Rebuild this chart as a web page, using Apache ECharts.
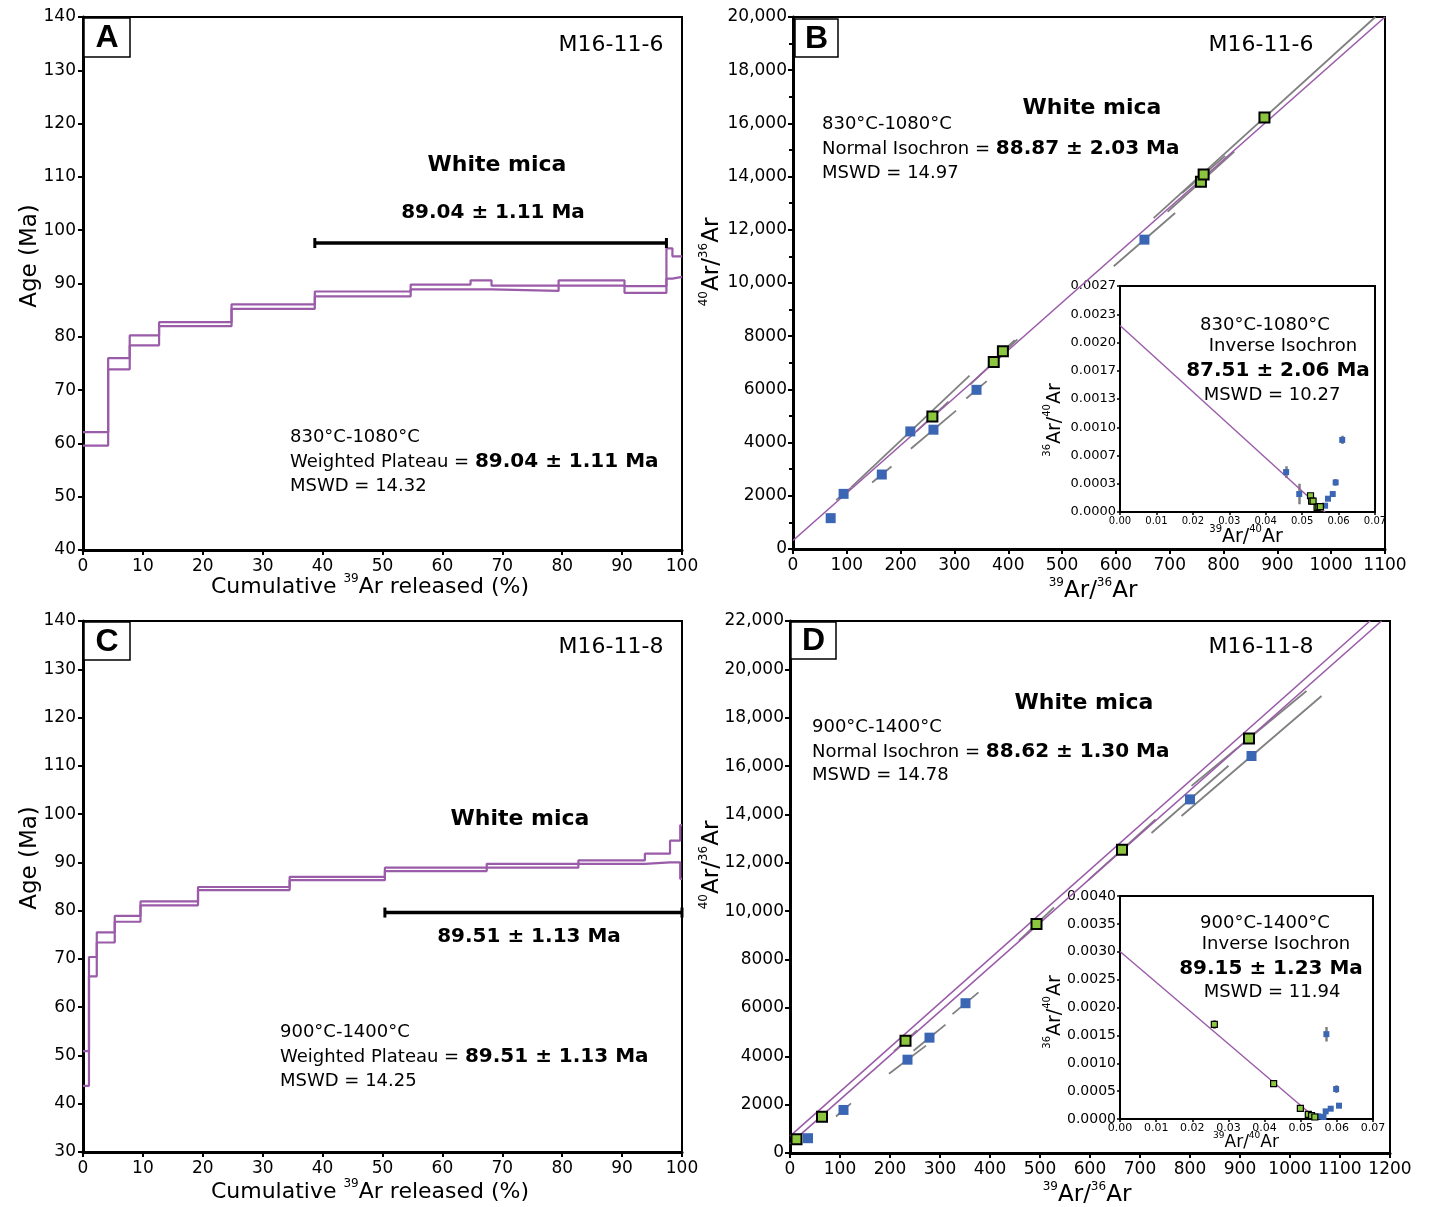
<!DOCTYPE html>
<html><head><meta charset="utf-8">
<script src="https://cdn.jsdelivr.net/npm/echarts@6/dist/echarts.min.js"></script>
<style>html,body{margin:0;padding:0;background:#fff}#c{width:1430px;height:1207px}</style>
</head><body><div id="c"></div>
<script>
// ---------------- DATA ----------------
// Panel A: age spectrum M16-11-6
const stepXA  = [0, 4.2, 7.8, 12.7, 24.8, 38.7, 54.7, 64.7, 68.2, 79.4, 90.4, 97.4, 98.4, 100];
const ageHiA  = [62.1, 76.0, 80.25, 82.75, 86.1, 88.5, 89.8, 90.6, 89.6, 90.6, 89.5, 96.6, 95.1];
const ageLoA  = [59.6, 73.9, 78.4, 82.0, 85.25, 87.6, 88.9, 88.9, 88.6, 89.6, 88.25, 90.9, 91.25];
const plateauRangeA = [38.7, 97.4];
const plateauLevelA = 97.6;

// Panel C: age spectrum M16-11-8
const stepXC  = [0, 1.0, 2.3, 5.3, 9.6, 19.2, 34.5, 50.4, 67.4, 82.7, 93.8, 98.0, 99.7, 100];
const ageHiC  = [50.9, 70.4, 75.5, 78.9, 81.9, 84.9, 87.0, 88.9, 89.7, 90.4, 91.8, 94.5, 97.7];
const ageLoC  = [43.7, 66.4, 73.4, 77.7, 81.1, 84.25, 86.3, 88.2, 88.9, 89.7, 90.0, 90.0, 86.6];
const plateauRangeC = [50.4, 100];
const plateauLevelC = 79.6;

// Panel B: normal isochron M16-11-6 (39Ar/36Ar, 40Ar/36Ar)
const blueBx  = [70, 94, 165, 218, 261, 341, 653];
const blueBy  = [1160, 2073, 2800, 4420, 4485, 5984, 11630];
const blueBex = [5, 14, 18, 110, 42, 19, 57];
const blueBey = [90, 235, 300, 2100, 717, 326, 1000];
const greenBx  = [259, 373, 390, 758, 763, 876];
const greenBy  = [4980, 7027, 7432, 13807, 14081, 16219];
const greenBex = [30, 44, 22, 62, 40, 206];
const greenBey = [560, 850, 420, 1130, 700, 3780];
const isoLineB = [[0, 320], [1100, 20000]];

// Panel D: normal isochron M16-11-8
const blueDx  = [36, 107, 235, 279, 351, 800, 923];
const blueDy  = [612, 1780, 3859, 4770, 6194, 14624, 16417];
const blueDex = [4, 15, 37, 32, 26, 77, 140];
const blueDey = [60, 270, 580, 540, 450, 1390, 2480];
const greenDx  = [13, 64, 231, 493, 664, 918];
const greenDy  = [570, 1495, 4642, 9469, 12545, 17144];
const greenDex = [3, 5, 23, 35, 67, 115];
const greenDey = [50, 80, 430, 690, 1250, 1960];
const isoLineD1 = [[0, 700], [1160, 22000]];
const isoLineD2 = [[0, 380], [1183, 22000]];

// Inset B: inverse isochron (39Ar/40Ar, 36Ar/40Ar)
const invBlueBx = [0.0456, 0.0492, 0.0563, 0.0571, 0.0584, 0.0592, 0.0610];
const invBlueBy = [0.000471, 0.000212, 0.0000745, 0.000157, 0.000212, 0.000349, 0.000851];
const invBlueBe = [0.00007, 0.00012, 0.00001, 0.00001, 0.00003, 0.00004, 0.00005];
const invGreenBx = [0.0523, 0.0526, 0.0530, 0.0541, 0.0546, 0.0550];
const invGreenBy = [0.000192, 0.000129, 0.000129, 0.000055, 0.000060, 0.000063];
const invLineB = [[0, 0.0022], [0.0563, 0]];

// Inset D
const invGreenDx = [0.0261, 0.0425, 0.0499, 0.0521, 0.0530, 0.0539];
const invGreenDy = [0.001696, 0.000633, 0.000191, 0.0000836, 0.0000597, 0.0000358];
const invGreenDe = [0.00008, 0.00005, 0.00002, 0.00001, 0.00001, 0.00001];
const invBlueDx = [0.0549, 0.0563, 0.0569, 0.0571, 0.0583, 0.0598, 0.0606];
const invBlueDy = [0.0000478, 0.0000358, 0.000137, 0.001522, 0.000185, 0.000537, 0.000239];
const invBlueDe = [0.00001, 0.00001, 0.00001, 0.00013, 0.00001, 0.00007, 0.00002];
const invLineD = [[0, 0.003003], [0.0544, 0]];

// ---------------- STYLE ----------------
const FONT = 'DejaVu Sans';
const PURPLE = '#9a5ba8';
const BLUE = '#3b66b4';
const GREEN = '#8cc63f';
const GRAY = '#808080';

function stepLine(xs, ys) {
  const pts = [];
  for (let i = 0; i < ys.length; i++) {
    pts.push([xs[i], ys[i]]);
    pts.push([xs[i + 1], ys[i]]);
  }
  return pts;
}
function zip(xs, ys) { return xs.map((x, i) => [x, ys[i]]); }
function segs(xs, ys, ex, ey) {
  return xs.map((x, i) => ({ coords: [[x - ex[i], ys[i] - ey[i]], [x + ex[i], ys[i] + ey[i]]] }));
}
function vsegs(xs, ys, e) {
  return xs.map((x, i) => ({ coords: [[x, ys[i] - e[i]], [x, ys[i] + e[i]]] }));
}
function commaFmt(v) { return v >= 10000 ? v.toLocaleString('en-US') : String(v); }
function plainFmt(v) { return String(v); }

function axis(gridIndex, min, max, interval, opts) {
  const base = {
    type: 'value', gridIndex, min, max, interval,
    axisLine: { show: true, onZero: false, lineStyle: { color: '#000', width: 3 } },
    axisTick: { show: true, inside: false, length: 5, lineStyle: { color: '#000', width: 2 } },
    axisLabel: { color: '#000', fontFamily: FONT, fontSize: 17, margin: 7, formatter: plainFmt },
    splitLine: { show: false }
  };
  return Object.assign(base, opts || {});
}
function insetAxis(gridIndex, min, max, interval, fs, digits, margin) {
  return {
    type: 'value', gridIndex, min, max, interval,
    axisLine: { show: true, onZero: false, lineStyle: { color: '#000', width: 2 } },
    axisTick: { show: true, length: 3, lineStyle: { color: '#000', width: 1.5 } },
    axisLabel: { color: '#000', fontFamily: FONT, fontSize: fs, margin: margin,
      formatter: v => v.toFixed(digits) },
    splitLine: { show: false }
  };
}

const grids = [
  { left: 83, top: 17, width: 599, height: 533 },     // A
  { left: 793, top: 17, width: 592, height: 532 },    // B
  { left: 83, top: 621, width: 599, height: 531 },    // C
  { left: 790, top: 621, width: 600, height: 532 },   // D
  { left: 1120, top: 286, width: 255, height: 226, backgroundColor: '#fff' }, // inset B
  { left: 1120, top: 896, width: 253, height: 223, backgroundColor: '#fff' }  // inset D
].map(g => Object.assign({ show: true, borderColor: '#000', borderWidth: 2, containLabel: false }, g));

const xLabel = { color: '#000', fontFamily: FONT, fontSize: 17, margin: 8, formatter: plainFmt };
const xAxes = [
  axis(0, 0, 100, 10, { axisLabel: xLabel }),
  axis(1, 0, 1100, 100, { axisLabel: xLabel }),
  axis(2, 0, 100, 10, { axisLabel: xLabel }),
  axis(3, 0, 1200, 100, { axisLabel: xLabel }),
  insetAxis(4, 0, 0.07, 0.01, 10, 2, 4),
  insetAxis(5, 0, 0.07, 0.01, 11, 2, 4)
];
const yAxes = [
  axis(0, 40, 140, 10),
  axis(1, 0, 20000, 2000, {
    axisLabel: { color: '#000', fontFamily: FONT, fontSize: 17, margin: 6, formatter: commaFmt },
    minorTick: { show: true, splitNumber: 2, length: 4, lineStyle: { color: '#000', width: 2 } }
  }),
  axis(2, 30, 140, 10),
  axis(3, 0, 22000, 2000, {
    axisLabel: { color: '#000', fontFamily: FONT, fontSize: 17, margin: 6, formatter: commaFmt }
  }),
  insetAxis(4, 0, 8 / 3000, 1 / 3000, 13, 4, 4),
  insetAxis(5, 0, 0.004, 0.0005, 14, 4, 4)
];

function lineS(ai, data, color, width, z) {
  return { type: 'line', xAxisIndex: ai, yAxisIndex: ai, data, showSymbol: false, symbol: 'none',
    lineStyle: { color, width }, z: z || 3, animation: false, silent: true };
}
function segS(ai, data, color, width) {
  return { type: 'lines', coordinateSystem: 'cartesian2d', xAxisIndex: ai, yAxisIndex: ai, data,
    lineStyle: { color, width, opacity: 1 }, z: 2, animation: false, silent: true };
}
function ptS(ai, data, color, size, border) {
  return { type: 'scatter', xAxisIndex: ai, yAxisIndex: ai, data, symbol: 'rect', symbolSize: size,
    itemStyle: { color, borderColor: border ? '#000' : color, borderWidth: border || 0, opacity: 1 },
    z: 5, animation: false, silent: true };
}
function plateauS(ai, range, level) {
  return { type: 'line', xAxisIndex: ai, yAxisIndex: ai,
    data: [[range[0], level], [range[1], level]],
    symbol: 'rect', symbolSize: [3, 10], showSymbol: true,
    itemStyle: { color: '#000' }, lineStyle: { color: '#000', width: 3.5 }, z: 4, animation: false, silent: true };
}

const series = [
  // A
  lineS(0, stepLine(stepXA, ageHiA), PURPLE, 2.2),
  lineS(0, stepLine(stepXA, ageLoA), PURPLE, 2.2),
  plateauS(0, plateauRangeA, plateauLevelA),
  // C
  lineS(2, stepLine(stepXC, ageHiC), PURPLE, 2.2),
  lineS(2, stepLine(stepXC, ageLoC), PURPLE, 2.2),
  plateauS(2, plateauRangeC, plateauLevelC),
  // B
  segS(1, segs(blueBx, blueBy, blueBex, blueBey), GRAY, 1.8),
  segS(1, segs(greenBx, greenBy, greenBex, greenBey), GRAY, 1.8),
  lineS(1, isoLineB, PURPLE, 1.6, 3),
  ptS(1, zip(blueBx, blueBy), BLUE, 10, 0),
  ptS(1, zip(greenBx, greenBy), GREEN, 10, 2),
  // D
  segS(3, segs(blueDx, blueDy, blueDex, blueDey), GRAY, 1.8),
  segS(3, segs(greenDx, greenDy, greenDex, greenDey), GRAY, 1.8),
  lineS(3, isoLineD1, PURPLE, 1.6, 3),
  lineS(3, isoLineD2, PURPLE, 1.6, 3),
  ptS(3, zip(blueDx, blueDy), BLUE, 10, 0),
  ptS(3, zip(greenDx, greenDy), GREEN, 10, 2),
  // inset B
  lineS(4, invLineB, PURPLE, 1.4, 3),
  segS(4, vsegs(invBlueBx, invBlueBy, invBlueBe), GRAY, 2.5),
  ptS(4, zip(invBlueBx, invBlueBy), BLUE, 6, 0),
  ptS(4, zip(invGreenBx, invGreenBy), GREEN, 6, 1.2),
  // inset D
  lineS(5, invLineD, PURPLE, 1.4, 3),
  segS(5, vsegs(invBlueDx, invBlueDy, invBlueDe), GRAY, 2.5),
  segS(5, vsegs(invGreenDx, invGreenDy, invGreenDe), GRAY, 2.5),
  ptS(5, zip(invBlueDx, invBlueDy), BLUE, 6, 0),
  ptS(5, zip(invGreenDx, invGreenDy), GREEN, 6, 1.2)
];

// ---------------- TEXT ----------------
function T(x, y, text, fs, opt) {
  opt = opt || {};
  return {
    type: 'text', x, y, rotation: opt.rot || 0, z: 100,
    style: {
      text, fill: '#000', fontFamily: opt.family || FONT, fontSize: fs,
      fontWeight: opt.bold ? 'bold' : 'normal',
      align: opt.align || 'left', verticalAlign: 'middle',
      rich: opt.rich || {}
    }
  };
}
const richVal = { b: { fontFamily: FONT, fontSize: 20, fontWeight: 'bold', fill: '#000' } };
function supRich(big, small) {
  return {
    n: { fontFamily: FONT, fontSize: big, lineHeight: big + 6, fill: '#000' },
    s: { fontFamily: FONT, fontSize: small, lineHeight: small, verticalAlign: 'top', fill: '#000' }
  };
}
function letterBox(x, y, w, h, letter) {
  return [
    { type: 'rect', z: 90, shape: { x, y, width: w, height: h }, style: { fill: '#fff', stroke: '#000', lineWidth: 1.5 } },
    T(x + w / 2, y + h / 2 + 1, letter, 32, { bold: true, align: 'center', family: 'Liberation Sans' })
  ];
}

const graphic = [].concat(
  letterBox(84, 18, 46, 39, 'A'),
  letterBox(795, 19, 43, 38, 'B'),
  letterBox(84, 622, 46, 38, 'C'),
  letterBox(791, 622, 45, 37, 'D'),
  [
    // Panel A
    T(611, 45, 'M16-11-6', 22, { align: 'center' }),
    T(497, 165, 'White mica', 22, { bold: true, align: 'center' }),
    T(493, 213, '89.04 ± 1.11 Ma', 20, { bold: true, align: 'center' }),
    T(290, 437, '830°C-1080°C', 18),
    T(290, 462, 'Weighted Plateau = {b|89.04 ± 1.11 Ma}', 18, { rich: richVal }),
    T(290, 486, 'MSWD = 14.32', 18),
    T(30, 256, 'Age (Ma)', 23, { align: 'center', rot: Math.PI / 2 }),
    T(370, 587, '{n|Cumulative }{s|39}{n|Ar released (%)}', 22, { align: 'center', rich: supRich(22, 12) }),
    // Panel B
    T(1261, 45, 'M16-11-6', 22, { align: 'center' }),
    T(1092, 108, 'White mica', 22, { bold: true, align: 'center' }),
    T(822, 124, '830°C-1080°C', 18),
    T(822, 149, 'Normal Isochron = {b|88.87 ± 2.03 Ma}', 18, { rich: richVal }),
    T(822, 173, 'MSWD = 14.97', 18),
    T(712, 262, '{s|40}{n|Ar/}{s|36}{n|Ar}', 22, { align: 'center', rot: Math.PI / 2, rich: supRich(23, 12) }),
    T(1093, 591, '{s|39}{n|Ar/}{s|36}{n|Ar}', 22, { align: 'center', rich: supRich(23, 12) }),
    // inset B
    T(1265, 325, '830°C-1080°C', 18, { align: 'center' }),
    T(1283, 346, 'Inverse Isochron', 18, { align: 'center' }),
    T(1278, 371, '87.51 ± 2.06 Ma', 20, { bold: true, align: 'center' }),
    T(1272, 395, 'MSWD = 10.27', 18, { align: 'center' }),
    T(1055, 420, '{s|36}{n|Ar/}{s|40}{n|Ar}', 19, { align: 'center', rot: Math.PI / 2, rich: supRich(19, 10) }),
    T(1246, 537, '{s|39}{n|Ar/}{s|40}{n|Ar}', 19, { align: 'center', rich: supRich(19, 10) }),
    // Panel C
    T(611, 647, 'M16-11-8', 22, { align: 'center' }),
    T(520, 819, 'White mica', 22, { bold: true, align: 'center' }),
    T(529, 937, '89.51 ± 1.13 Ma', 20, { bold: true, align: 'center' }),
    T(280, 1032, '900°C-1400°C', 18),
    T(280, 1057, 'Weighted Plateau = {b|89.51 ± 1.13 Ma}', 18, { rich: richVal }),
    T(280, 1081, 'MSWD = 14.25', 18),
    T(30, 858, 'Age (Ma)', 23, { align: 'center', rot: Math.PI / 2 }),
    T(370, 1192, '{n|Cumulative }{s|39}{n|Ar released (%)}', 22, { align: 'center', rich: supRich(22, 12) }),
    // Panel D
    T(1261, 647, 'M16-11-8', 22, { align: 'center' }),
    T(1084, 703, 'White mica', 22, { bold: true, align: 'center' }),
    T(812, 727, '900°C-1400°C', 18),
    T(812, 752, 'Normal Isochron = {b|88.62 ± 1.30 Ma}', 18, { rich: richVal }),
    T(812, 775, 'MSWD = 14.78', 18),
    T(712, 865, '{s|40}{n|Ar/}{s|36}{n|Ar}', 22, { align: 'center', rot: Math.PI / 2, rich: supRich(23, 12) }),
    T(1087, 1195, '{s|39}{n|Ar/}{s|36}{n|Ar}', 22, { align: 'center', rich: supRich(23, 12) }),
    // inset D
    T(1265, 923, '900°C-1400°C', 18, { align: 'center' }),
    T(1276, 944, 'Inverse Isochron', 18, { align: 'center' }),
    T(1271, 969, '89.15 ± 1.23 Ma', 20, { bold: true, align: 'center' }),
    T(1272, 992, 'MSWD = 11.94', 18, { align: 'center' }),
    T(1055, 1012, '{s|36}{n|Ar/}{s|40}{n|Ar}', 19, { align: 'center', rot: Math.PI / 2, rich: supRich(19, 10) }),
    T(1246, 1143, '{s|39}{n|Ar/}{s|40}{n|Ar}', 17, { align: 'center', rich: supRich(17, 9) })
  ]
);

const chart = echarts.init(document.getElementById('c'), null, { renderer: 'canvas' });
chart.setOption({
  backgroundColor: '#fff',
  animation: false,
  grid: grids,
  xAxis: xAxes,
  yAxis: yAxes,
  series,
  graphic
});
</script>
</body></html>
